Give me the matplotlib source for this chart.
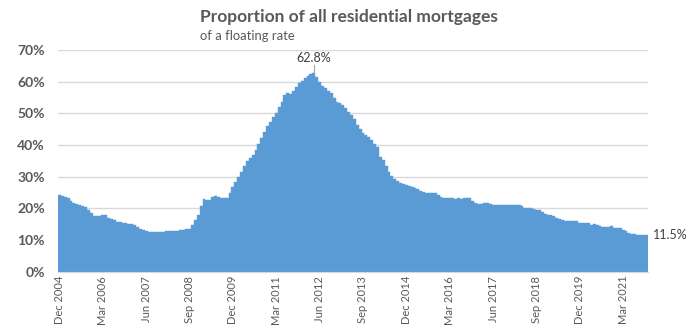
import matplotlib
matplotlib.use("Agg")
import matplotlib.pyplot as plt

# Monthly data, Dec 2004 .. Nov 2021 (% of residential mortgages at floating rate)
values = [
    24.3,                                                               # Dec 2004
    24.0, 23.7, 23.2, 22.2, 21.8, 21.4, 21.0, 20.7, 20.3, 19.5, 18.4, 17.6,  # 2005
    17.6, 17.6, 17.9, 17.9, 16.9, 16.5, 16.2, 15.6, 15.6, 15.3, 15.3, 15.0,  # 2006
    15.0, 14.6, 14.0, 13.6, 13.2, 12.8, 12.5, 12.4, 12.4, 12.4, 12.4, 12.4,  # 2007
    12.8, 12.8, 12.8, 12.8, 12.8, 13.2, 13.2, 13.4, 13.4, 14.7, 16.4, 17.9,  # 2008
    20.7, 22.9, 22.6, 22.6, 23.5, 24.0, 23.7, 23.3, 23.4, 23.4, 24.7, 26.6,  # 2009
    28.2, 29.8, 31.6, 33.4, 35.0, 35.8, 36.8, 38.4, 40.3, 42.1, 44.1, 46.0,  # 2010
    47.4, 48.7, 50.2, 52.1, 53.5, 55.8, 56.4, 56.1, 57.2, 58.2, 59.5, 60.3,  # 2011
    61.3, 61.9, 62.4, 62.8, 61.4, 59.8, 58.6, 57.9, 57.2, 56.3, 54.8, 53.7,  # 2012
    53.2, 52.5, 51.6, 50.5, 49.5, 48.1, 46.3, 45.0, 43.9, 43.1, 42.6, 41.6,  # 2013
    40.3, 39.3, 36.3, 35.3, 33.4, 31.6, 30.2, 29.3, 28.5, 28.1, 27.6, 27.4,  # 2014
    27.2, 26.8, 26.5, 26.1, 25.6, 25.3, 24.8, 24.8, 24.8, 24.8, 24.2, 23.7,  # 2015
    23.2, 23.2, 23.2, 23.2, 22.9, 23.2, 22.9, 23.2, 23.2, 23.2, 22.4, 21.6,  # 2016
    21.3, 21.3, 21.6, 21.6, 21.3, 21.0, 21.0, 21.0, 21.0, 21.0, 21.0, 21.0,  # 2017
    21.0, 21.0, 21.0, 20.6, 20.2, 20.1, 20.0, 19.7, 19.6, 19.5, 18.8, 18.1,  # 2018
    18.0, 17.9, 17.6, 17.1, 16.6, 16.3, 16.0, 16.0, 16.0, 16.0, 16.0, 15.3,  # 2019
    15.3, 15.3, 15.3, 14.7, 15.0, 14.6, 14.4, 14.2, 14.1, 14.0, 14.4, 13.7,  # 2020
    13.7, 13.7, 13.2, 13.0, 12.3, 11.9, 11.8, 11.7, 11.7, 11.6, 11.5,        # 2021
]

tick_labels = ["Dec 2004", "Mar 2006", "Jun 2007", "Sep 2008", "Dec 2009",
               "Mar 2011", "Jun 2012", "Sep 2013", "Dec 2014", "Mar 2016",
               "Jun 2017", "Sep 2018", "Dec 2019", "Mar 2021"]
tick_step = 15
y_ticks = [0, 10, 20, 30, 40, 50, 60, 70]

title = "Proportion of all residential mortgages"
subtitle = "of a floating rate"

FONT = "Lato"
GREY = "#595959"
BAR = "#5B9BD5"

plt.rcParams["font.family"] = [FONT, "DejaVu Sans"]

fig = plt.figure(figsize=(7.0, 3.3), dpi=100)
ax = fig.add_axes([58 / 700, 1 - 271.7 / 330, (647.7 - 58) / 700, (271.7 - 50) / 330])

x = list(range(len(values)))
ax.bar(x, values, width=1.0, color=BAR, edgecolor=BAR, linewidth=0.3, zorder=2)

ax.set_xlim(-0.5, len(values) - 0.5)
ax.set_ylim(0, 70)
ax.set_yticks(y_ticks)
ax.set_yticklabels([f"{v}%" for v in y_ticks], fontsize=10, fontweight="bold", color=GREY)
tick_pos = list(range(0, len(values), tick_step))[:len(tick_labels)]
ax.set_xticks(tick_pos)
ax.set_xticklabels(tick_labels, rotation=90, fontsize=8, color=GREY)
ax.tick_params(axis="both", length=0)
ax.tick_params(axis="y", pad=9.5)
ax.tick_params(axis="x", pad=3)

ax.grid(axis="y", color="#D9D9D9", linewidth=1.0, zorder=0)
for s in ["top", "right", "left"]:
    ax.spines[s].set_visible(False)
ax.spines["bottom"].set_color("#D9D9D9")
ax.set_axisbelow(True)

# peak annotation
imax = max(range(len(values)), key=lambda i: values[i])
ax.plot([imax, imax], [values[imax], values[imax] + 2.6], color="#A6A6A6", lw=0.8, zorder=3)
ax.text(imax, values[imax] + 4.7, f"{values[imax]}%", ha="center", va="center",
        fontsize=9, color="#404040")
# last value label
ilast = len(values) - 1
ax.annotate(f"{values[ilast]}%", xy=(ilast + 0.5, values[ilast]), xytext=(4, 0),
            textcoords="offset points", ha="left", va="center", fontsize=9,
            color="#404040", annotation_clip=False)

fig.text(200 / 700, 1 - 17 / 330, title, ha="left", va="center", fontsize=12.5,
         fontweight="bold", color=GREY)
fig.text(200 / 700, 1 - 36 / 330, subtitle, ha="left", va="center", fontsize=9.4,
         color=GREY)

fig.savefig("out.png", dpi=100)
